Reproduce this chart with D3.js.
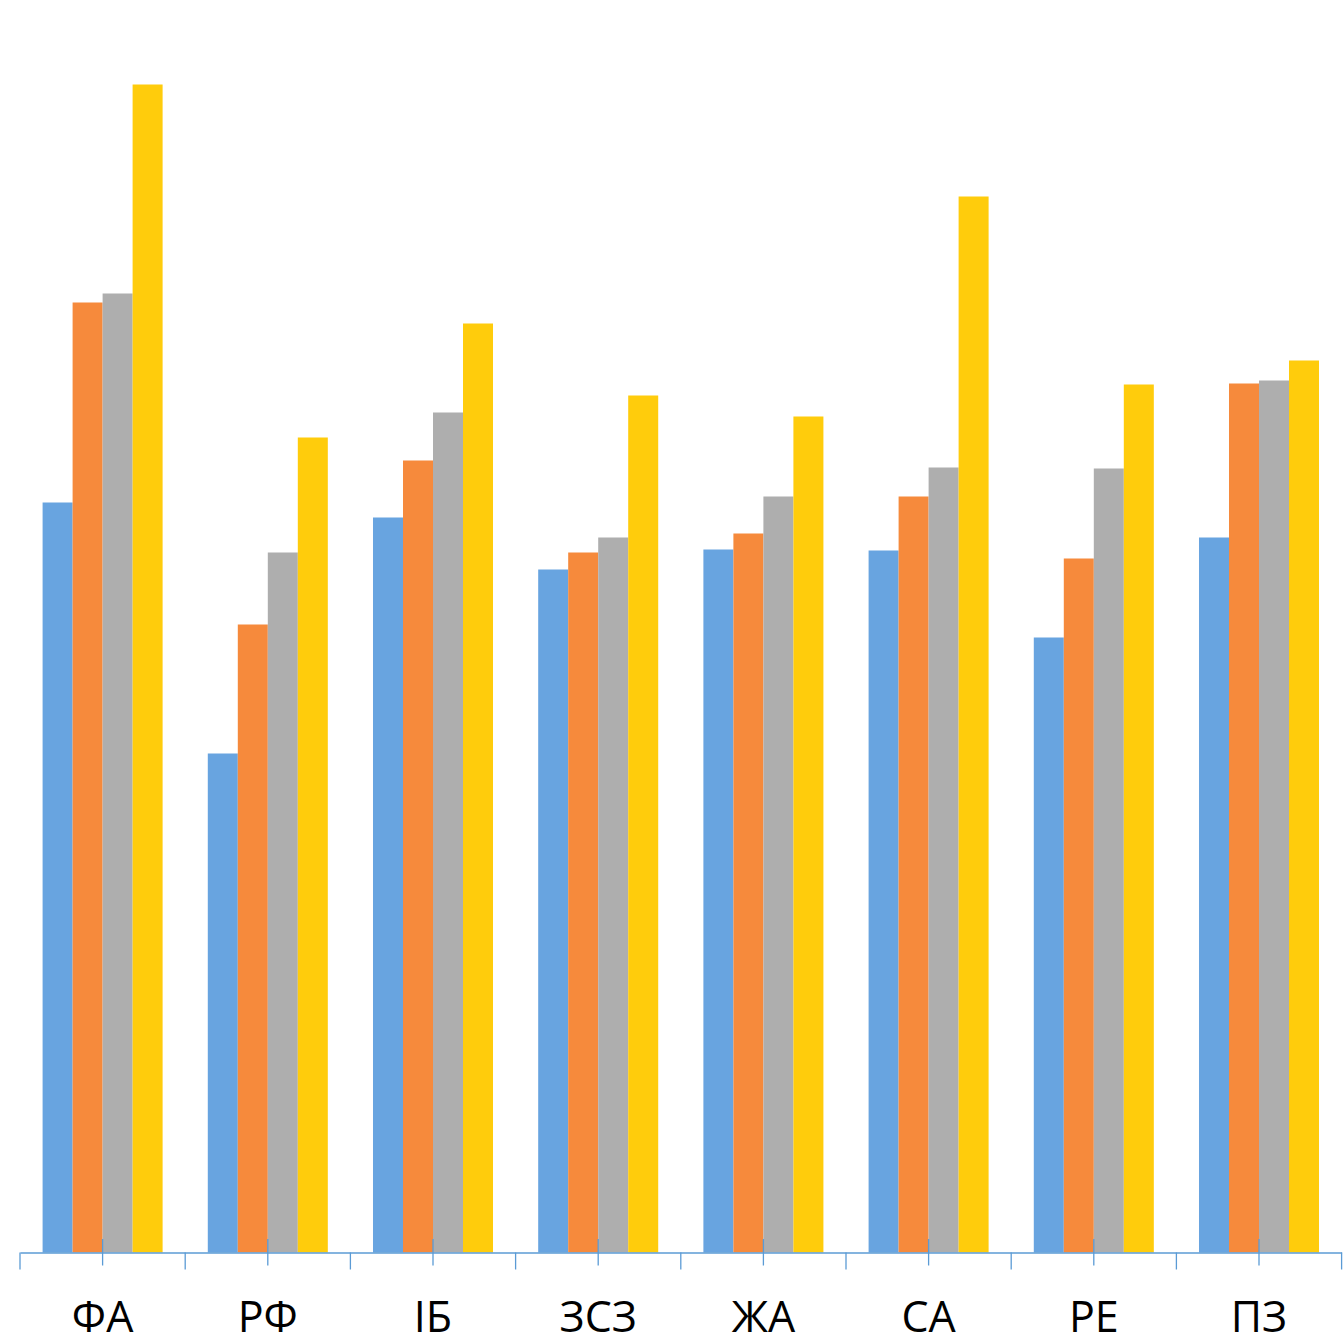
<!DOCTYPE html>
<html>
<head>
<meta charset="utf-8">
<script src="https://cdn.jsdelivr.net/npm/d3@7"></script>
<style>
  html, body { margin: 0; padding: 0; background: #fff; }
  svg { display: block; }
</style>
</head>
<body>
<div id="chart"></div>
<script>
  // categories and the four series (arbitrary units)
  let categories = ["ФА", "РФ", "ІБ", "ЗСЗ", "ЖА", "СА", "РЕ", "ПЗ"];
  let seriesNames = ["s1", "s2", "s3", "s4"];
  let series1 = [75.0, 49.9, 73.5, 68.3, 70.3, 70.2, 61.5, 71.5];
  let series2 = [95.0, 62.8, 79.2, 70.0, 71.9, 75.6, 69.4, 86.9];
  let series3 = [95.9, 70.0, 84.0, 71.5, 75.6, 78.5, 78.4, 87.2];
  let series4 = [116.8, 81.5, 92.9, 85.7, 83.6, 105.6, 86.8, 89.2];
  let yMax = 125.25;

  let WIDTH = 1344, HEIGHT = 1344;
  let LEFT = 20, RIGHT = 1341.6, BASE = 1252.5;
  let colors = ["#68a4e0", "#f68a3c", "#aeaeae", "#ffcc0c"];
  let AXIS_COLOR = "#5b9bd5";

  let allSeries = [series1, series2, series3, series4];
  let table = categories.map(function(c, i) {
    return {cat: c, values: allSeries.map(function(s, j) { return {key: seriesNames[j], value: s[i]}; })};
  });

  let x = d3.scaleBand().domain(categories).range([LEFT, RIGHT]).padding(0);
  let xInner = d3.scaleBand().domain(seriesNames).range([0, x.bandwidth()]).paddingInner(0).paddingOuter(0.753);
  let y = d3.scaleLinear().domain([0, yMax]).range([BASE, 0]);
  let color = d3.scaleOrdinal().domain(seriesNames).range(colors);

  let svg = d3.select("#chart").append("svg").attr("width", WIDTH).attr("height", HEIGHT);

  let groups = svg.selectAll("g.group")
                  .data(table)
                  .enter()
                  .append("g")
                  .attr("class", "group")
                  .attr("transform", function(d) { return "translate(" + x(d.cat) + ",0)"; });

  groups.selectAll("rect")
        .data(function(d) { return d.values; })
        .enter()
        .append("rect")
        .attr("x", function(d) { return xInner(d.key); })
        .attr("width", xInner.bandwidth())
        .attr("y", function(d) { return y(d.value); })
        .attr("height", function(d) { return BASE - y(d.value); })
        .attr("fill", function(d) { return color(d.key); });

  // x axis: ticks at category centres crossing the line
  let xAxis = d3.axisBottom(x).tickSize(26).tickSizeOuter(0).tickPadding(0);
  let axisG = svg.append("g").attr("transform", "translate(0," + BASE + ")").call(xAxis);
  axisG.select(".domain").attr("stroke", AXIS_COLOR).attr("stroke-width", 1.3);
  axisG.selectAll(".tick line").attr("stroke", AXIS_COLOR).attr("stroke-width", 1.3)
       .attr("y1", -13.5).attr("y2", 13);
  axisG.selectAll(".tick text")
       .attr("y", 79.5)
       .attr("dy", 0)
       .attr("fill", "#000")
       .style("font-family", "'Open Sans', 'Noto Sans', sans-serif")
       .style("font-size", "43px");

  // boundary ticks between categories
  let bounds = categories.map(function(c) { return x(c); }).concat([RIGHT]);
  svg.append("g").selectAll("line")
     .data(bounds)
     .enter()
     .append("line")
     .attr("x1", function(d) { return d; })
     .attr("x2", function(d) { return d; })
     .attr("y1", BASE)
     .attr("y2", BASE + 17)
     .attr("stroke", AXIS_COLOR)
     .attr("stroke-width", 1.3);
</script>
</body>
</html>
